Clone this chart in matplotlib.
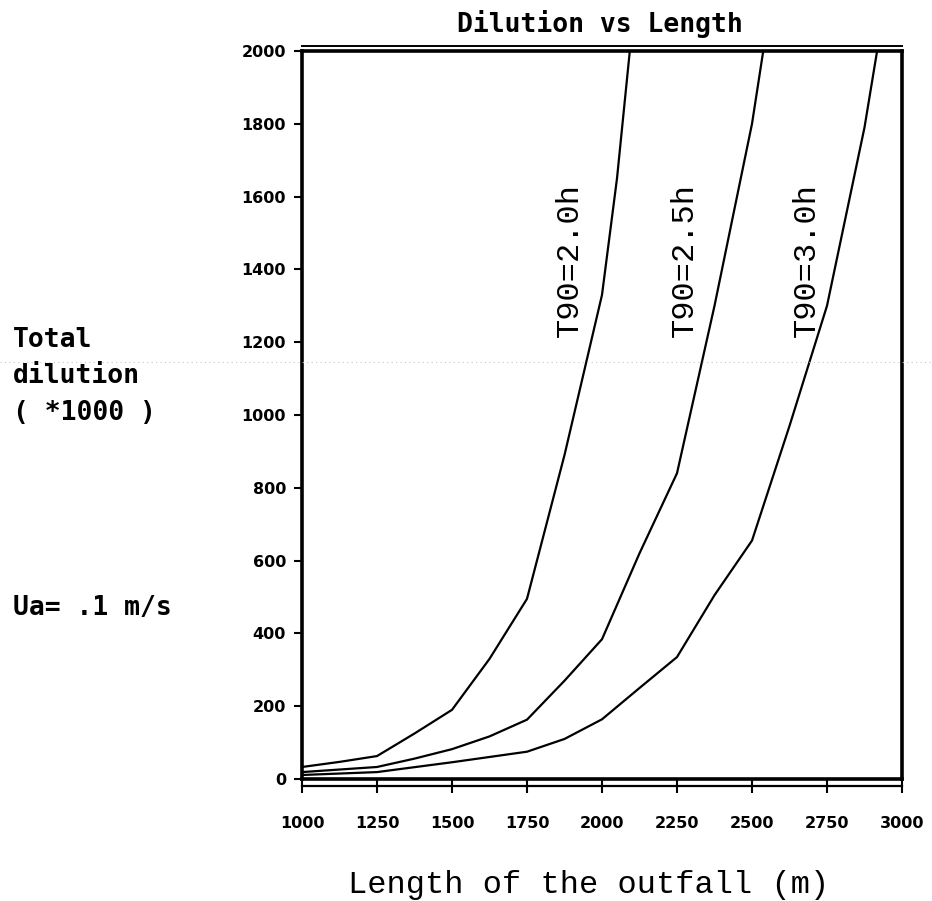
import matplotlib
matplotlib.use("Agg")
import matplotlib.pyplot as plt
from matplotlib.lines import Line2D

# ---- data ----
length_t20 = [1000, 1125, 1250, 1375, 1500, 1625, 1750, 1875, 2000, 2050, 2100]
dil_t20 = [33, 47, 63, 125, 190, 330, 495, 890, 1330, 1650, 2060]

length_t25 = [1000, 1125, 1250, 1375, 1500, 1625, 1750, 1875, 2000, 2125, 2250, 2375, 2500, 2545]
dil_t25 = [19, 26, 33, 56, 82, 117, 163, 270, 384, 620, 840, 1300, 1800, 2040]

length_t30 = [1000, 1250, 1500, 1750, 1875, 2000, 2125, 2250, 2375, 2500, 2625, 2750, 2875, 2925]
dil_t30 = [11, 19, 46, 75, 110, 164, 250, 335, 505, 655, 970, 1300, 1790, 2040]

series_labels = ["T90=2.0h", "T90=2.5h", "T90=3.0h"]
label_pos = [(1920, 1425), (2303, 1425), (2710, 1425)]

x_ticks = [1000, 1250, 1500, 1750, 2000, 2250, 2500, 2750, 3000]
y_ticks = [0, 200, 400, 600, 800, 1000, 1200, 1400, 1600, 1800, 2000]

# ---- figure ----
W, H = 932, 901
fig = plt.figure(figsize=(W / 100, H / 100), dpi=100)
ax = fig.add_axes([302 / W, (H - 779) / H, 600 / W, 728 / H])

for xs, ys in [(length_t20, dil_t20), (length_t25, dil_t25), (length_t30, dil_t30)]:
    ax.plot(xs, ys, color="black", lw=1.6, solid_joinstyle="miter")

ax.set_xlim(1000, 3000)
ax.set_ylim(0, 2000)

for sp in ax.spines.values():
    sp.set_linewidth(2.6)
    sp.set_color("black")

ax.set_xticks(x_ticks)
ax.set_yticks(y_ticks)
ax.set_xticklabels([str(v) for v in x_ticks])
ax.set_yticklabels([str(v) for v in y_ticks])
ax.tick_params(axis="x", direction="out", length=10, width=1.5, pad=16.5,
               labelsize=11.5)
ax.tick_params(axis="y", direction="out", length=6, width=1.5, pad=5.5,
               labelsize=11.5)
for lab in ax.get_xticklabels() + ax.get_yticklabels():
    lab.set_fontweight("bold")
    lab.set_family("DejaVu Sans")

# double frame lines at top and bottom
ax.plot([0, 1], [1 + 5 / 728, 1 + 5 / 728], transform=ax.transAxes,
        color="black", lw=1.4, clip_on=False)
ax.plot([0, 1], [-6.5 / 728, -6.5 / 728], transform=ax.transAxes,
        color="black", lw=1.6, clip_on=False)

# curve labels
for txt, (lx, ly) in zip(series_labels, label_pos):
    ax.text(lx, ly, txt, rotation=90, rotation_mode="anchor",
            ha="center", va="baseline", fontsize=23,
            family="Liberation Mono", color="black")

# title
fig.text(600 / W, 1 - 32 / H, "Dilution vs Length", ha="center",
         va="baseline", fontsize=19, fontweight="bold",
         family="DejaVu Sans Mono")

# x label
fig.text(589 / W, 1 - 893 / H, "Length of the outfall (m)", ha="center",
         va="baseline", fontsize=23, family="Liberation Mono")

# left side texts
left_texts = [("Total", 347), ("dilution", 383), ("( *1000 )", 420), ("Ua= .1 m/s", 615)]
for t, yb in left_texts:
    fig.text(13 / W, 1 - yb / H, t, ha="left", va="baseline", fontsize=19,
             fontweight="bold", family="DejaVu Sans Mono")

# faint scan artifact line
fig.add_artist(Line2D([0, 1], [1 - 362 / H, 1 - 362 / H], transform=fig.transFigure,
                      color="#c8c8c8", lw=0.8, linestyle=(0, (1, 3))))

fig.savefig("out.png", dpi=100)
